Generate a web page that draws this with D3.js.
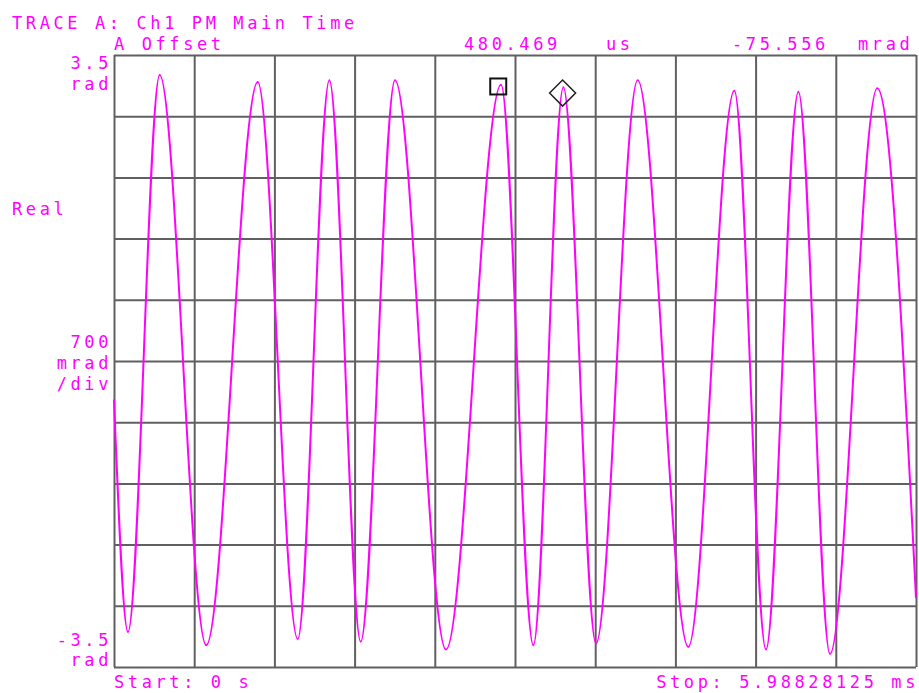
<!DOCTYPE html>
<html><head><meta charset="utf-8">
<script src="https://cdn.jsdelivr.net/npm/d3@7"></script>
<style>
html,body{margin:0;padding:0;background:#fff;}
svg text{font-family:"DejaVu Sans Mono","Liberation Mono",monospace;font-size:17px;fill:#ff00ff;letter-spacing:3.6px;}
</style></head>
<body><svg id="c" width="919" height="693"></svg>
<script>
// ---- data (time in ms, value in rad) ----
const traceTimes  = [0, 0.1045, 0.341, 0.689, 1.073, 1.372, 1.608, 1.842, 2.098, 2.479, 2.890, 3.131, 3.355, 3.599, 3.910, 4.288, 4.632, 4.868, 5.110, 5.346, 5.699, 5.98828125];
const traceValues = [-0.44, -3.10, 3.27, -3.25, 3.19, -3.18, 3.21, -3.21, 3.21, -3.30, 3.16, -3.25, 3.13, -3.23, 3.21, -3.27, 3.09, -3.30, 3.08, -3.35, 3.12, -2.71];
const xDomain = [0, 5.98828125];
const yDomain = [-3.5, 3.5];
const divisions = 10;
const markerTimes  = [2.869, 3.349469];
const markerValues = [3.14, 3.0644];
const markerShapes = ["square", "diamond"];
const titleLines = ["TRACE A: Ch1 PM Main Time", "A Offset"];
const readouts = ["480.469", "us", "-75.556", "mrad"];
const yTopLabel = ["3.5", "rad"];
const yMidLabel = ["700", "mrad", "/div"];
const yBotLabel = ["-3.5", "rad"];
const formatLabel = "Real";
const startLabel = "Start: 0 s";
const stopLabel = "Stop: 5.98828125 ms";

// ---- layout ----
const svg = d3.select("#c");
const L = 114, R = 916, T = 55, B = 667;
const x = d3.scaleLinear().domain(xDomain).range([L, R]);
const y = d3.scaleLinear().domain(yDomain).range([B, T]);
const xTicks = d3.range(divisions + 1).map(i => xDomain[0] + i * (xDomain[1] - xDomain[0]) / divisions);
const yTicks = d3.range(divisions + 1).map(i => yDomain[0] + i * (yDomain[1] - yDomain[0]) / divisions);

svg.append("rect").attr("width", 919).attr("height", 693).attr("fill", "#fff");

const gridColor = "#606060";
svg.append("g").attr("transform", `translate(0,${B})`)
  .call(d3.axisBottom(x).tickValues(xTicks).tickSize(-(B - T)).tickFormat(""))
  .call(g => g.select(".domain").remove())
  .call(g => g.selectAll("line").attr("stroke", gridColor).attr("stroke-width", 2));
svg.append("g").attr("transform", `translate(${L},0)`)
  .call(d3.axisLeft(y).tickValues(yTicks).tickSize(-(R - L)).tickFormat(""))
  .call(g => g.select(".domain").remove())
  .call(g => g.selectAll("line").attr("stroke", gridColor).attr("stroke-width", 2));

// trace
const pts = traceTimes.map((t, i) => [t, traceValues[i]]);
const line = d3.line().x(d => x(d[0])).y(d => y(d[1])).curve(d3.curveMonotoneX);
svg.append("path").attr("d", line(pts)).attr("fill", "none")
  .attr("stroke", "#ff00ff").attr("stroke-width", 2);

// markers
markerTimes.forEach((t, i) => {
  const cx = x(t), cy = y(markerValues[i]);
  if (markerShapes[i] === "square") {
    svg.append("rect").attr("x", cx - 8).attr("y", cy - 8).attr("width", 16).attr("height", 16)
      .attr("fill", "none").attr("stroke", "#111").attr("stroke-width", 2);
  } else {
    const s = 13;
    svg.append("path").attr("d", `M${cx},${cy - s}L${cx + s},${cy}L${cx},${cy + s}L${cx - s},${cy}Z`)
      .attr("fill", "none").attr("stroke", "#222").attr("stroke-width", 1.5);
  }
});

// texts
const txt = (s, tx, ty, anchor) => svg.append("text").attr("x", tx).attr("y", ty)
  .attr("text-anchor", anchor || "start").text(s);
txt(titleLines[0], 12, 29);
txt(titleLines[1], 114, 50);
txt(readouts[0], 464, 50);
txt(readouts[1], 606, 50);
txt(readouts[2], 732, 50);
txt(readouts[3], 858, 50);
txt(yTopLabel[0], 112, 69, "end");
txt(yTopLabel[1], 112, 90, "end");
txt(formatLabel, 12, 215);
txt(yMidLabel[0], 112, 348, "end");
txt(yMidLabel[1], 112, 369, "end");
txt(yMidLabel[2], 112, 390, "end");
txt(yBotLabel[0], 112, 646, "end");
txt(yBotLabel[1], 112, 666, "end");
txt(startLabel, 114, 688);
txt(stopLabel, 919, 688, "end");
</script></body></html>
